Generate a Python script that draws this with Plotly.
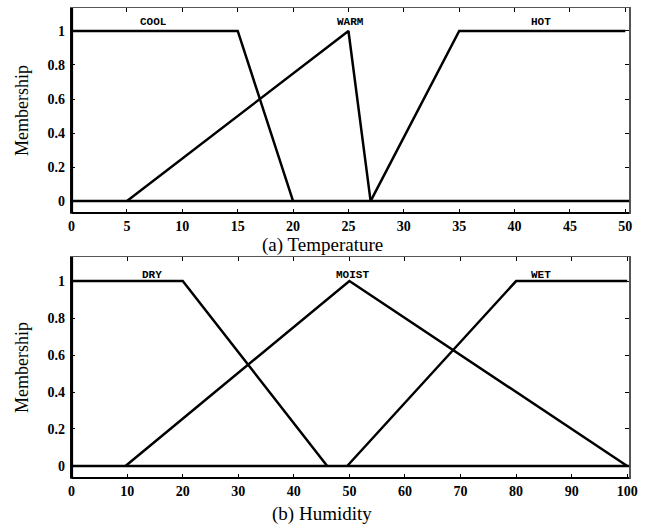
import plotly.graph_objects as go

# Temperature membership functions (x in degrees, y membership)
temp_cool_x = [0, 15, 20]
temp_cool_y = [1, 1, 0]
temp_warm_x = [5, 25, 27]
temp_warm_y = [0, 1, 0]
temp_hot_x = [27, 35, 50]
temp_hot_y = [0, 1, 1]
temp_labels = ["COOL", "WARM", "HOT"]
temp_label_x = [7.4, 25.2, 42.4]

# Humidity membership functions (x in %, y membership)
hum_dry_x = [0, 20, 46]
hum_dry_y = [1, 1, 0]
hum_moist_x = [9.7, 50, 100]
hum_moist_y = [0, 1, 0]
hum_wet_x = [49.6, 80, 100]
hum_wet_y = [0, 1, 1]
hum_labels = ["DRY", "MOIST", "WET"]
hum_label_x = [14.4, 50.6, 84.5]

temp_ticks = [0, 5, 10, 15, 20, 25, 30, 35, 40, 45, 50]
hum_ticks = [0, 10, 20, 30, 40, 50, 60, 70, 80, 90, 100]
memb_ticks = [0, 0.2, 0.4, 0.6, 0.8, 1]
memb_tick_text = ["0", "0.2", "0.4", "0.6", "0.8", "1"]

W, H = 647, 529
LINE = dict(color="black", width=2.5)
SERIF = "Liberation Serif, Times New Roman, serif"
MONO = "Liberation Mono, Courier New, monospace"

fig = go.Figure()

for xs, ys in [(temp_cool_x, temp_cool_y), (temp_warm_x, temp_warm_y), (temp_hot_x, temp_hot_y)]:
    fig.add_trace(go.Scatter(x=xs, y=ys, mode="lines", line=LINE, xaxis="x", yaxis="y",
                             showlegend=False, hoverinfo="skip"))
for xs, ys in [(hum_dry_x, hum_dry_y), (hum_moist_x, hum_moist_y), (hum_wet_x, hum_wet_y)]:
    fig.add_trace(go.Scatter(x=xs, y=ys, mode="lines", line=LINE, xaxis="x2", yaxis="y2",
                             showlegend=False, hoverinfo="skip"))

xdom = [69 / W, 638 / W]
ydom_top = [1 - 213 / H, 1 - 8 / H]
ydom_bot = [1 - 478 / H, 1 - 257 / H]

tickfont = dict(family=SERIF, size=14, color="black", weight="bold")

def xaxis_cfg(ticks, rng, anchor):
    return dict(domain=xdom, range=rng, anchor=anchor, tickvals=ticks,
                ticks="inside", ticklen=4, tickwidth=1, tickcolor="black",
                showline=True, linecolor="#555555", linewidth=1, mirror="ticks",
                showgrid=False, zeroline=False, tickfont=tickfont, ticklabelstandoff=0)

def yaxis_cfg(dom, rng, anchor):
    return dict(domain=dom, range=rng, anchor=anchor, tickvals=memb_ticks,
                ticktext=memb_tick_text, ticks="inside", ticklen=4, tickwidth=1,
                tickcolor="black", showline=True, linecolor="#555555", linewidth=1.5,
                mirror="ticks", showgrid=False, zeroline=False, tickfont=tickfont,
                ticklabelstandoff=2,
                title=dict(text="Membership", font=dict(family=SERIF, size=18, color="black"),
                           standoff=14))

fig.update_layout(
    width=W, height=H,
    margin=dict(l=0, r=0, t=0, b=0),
    paper_bgcolor="white", plot_bgcolor="white",
    xaxis=xaxis_cfg(temp_ticks, [0, 50.35], "y"),
    yaxis=yaxis_cfg(ydom_top, [-0.07, 1.135], "x"),
    xaxis2=xaxis_cfg(hum_ticks, [0, 100.35], "y2"),
    yaxis2=yaxis_cfg(ydom_bot, [-0.065, 1.13], "x2"),
)

shapes = []
for xr, yr in [("x", "y"), ("x2", "y2")]:
    # baseline at zero membership
    shapes.append(dict(type="line", xref=f"{xr} domain", yref=yr, x0=0, x1=1, y0=0, y1=0,
                       line=dict(color="black", width=2.5)))
    # heavy left and bottom axis lines
    shapes.append(dict(type="line", xref=f"{xr} domain", yref=f"{yr} domain", x0=0, x1=0, y0=0, y1=1,
                       line=dict(color="black", width=3)))
    shapes.append(dict(type="line", xref=f"{xr} domain", yref=f"{yr} domain", x0=0, x1=1, y0=0, y1=0,
                       line=dict(color="black", width=2)))
fig.update_layout(shapes=shapes)

annotations = []
for txt, x in zip(temp_labels, temp_label_x):
    annotations.append(dict(text=txt, x=x, y=1.05, xref="x", yref="y", showarrow=False,
                            font=dict(family=MONO, size=11, color="black", weight="bold")))
for txt, x in zip(hum_labels, hum_label_x):
    annotations.append(dict(text=txt, x=x, y=1.035, xref="x2", yref="y2", showarrow=False,
                            font=dict(family=MONO, size=11, color="black", weight="bold")))
annotations.append(dict(text="(a) Temperature", x=325 / W, y=1 - 245 / H, xref="paper", yref="paper",
                        showarrow=False, font=dict(family=SERIF, size=19, color="black")))
annotations.append(dict(text="(b) Humidity", x=325 / W, y=1 - 527 / H, xref="paper", yref="paper",
                        yanchor="bottom", showarrow=False,
                        font=dict(family=SERIF, size=19, color="black")))
fig.update_layout(annotations=annotations)

fig.write_html("out.html")
